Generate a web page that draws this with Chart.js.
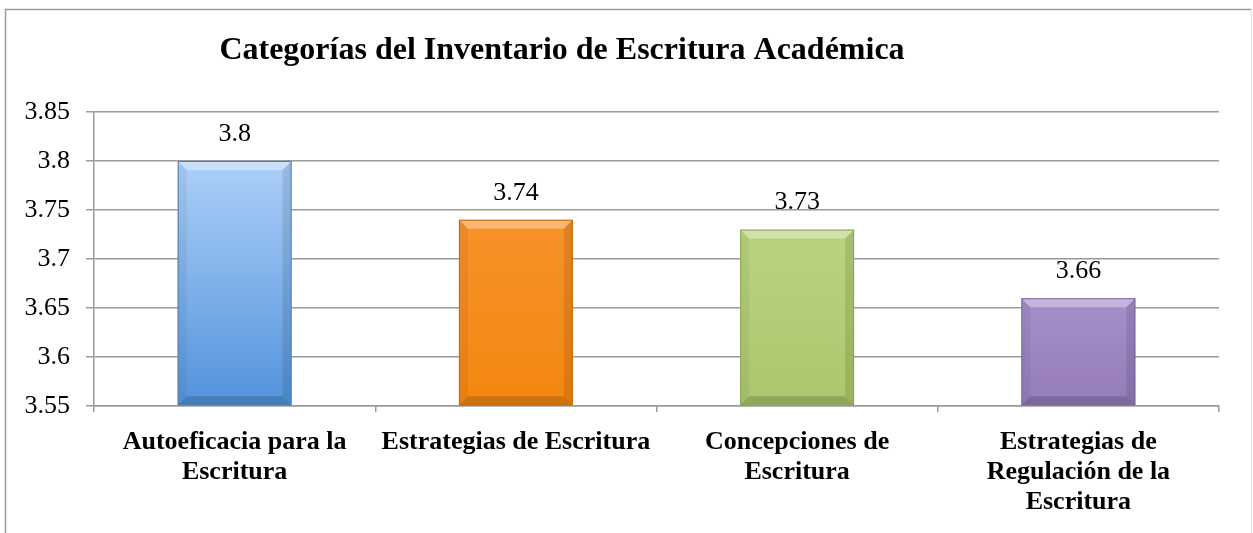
<!DOCTYPE html>
<html>
<head>
<meta charset="utf-8">
<script src="https://cdn.jsdelivr.net/npm/chart.js@4.4.1/dist/chart.umd.min.js"></script>
<style>
html,body{margin:0;padding:0;background:#fff;}
#wrap{position:relative;width:1253px;height:533px;}
</style>
</head>
<body>
<div id="wrap"><canvas id="c" width="1253" height="533"></canvas></div>
<script>
const chartTitle = 'Categorías del Inventario de Escritura Académica';
const categories = [
  ['Autoeficacia para la', 'Escritura'],
  'Estrategias de Escritura',
  ['Concepciones de', 'Escritura'],
  ['Estrategias de', 'Regulación de la', 'Escritura']
];
const values = [3.8, 3.74, 3.73, 3.66];
const valueLabels = ['3.8', '3.74', '3.73', '3.66'];
const yMin = 3.55, yMax = 3.85, yStep = 0.05;
const barTop = ['#acd0f9', '#f7922a', '#b9d47e', '#a68fca'];
const barBottom = ['#5293da', '#f3870f', '#aac76d', '#957cb8'];
const barEdge = ['#4d80bd', '#c46b0c', '#8aa552', '#7a63a0'];

const serif = '"Liberation Serif", "Times New Roman", serif';

const framePlugin = {
  id: 'frame',
  beforeDraw(chart) {
    const ctx = chart.ctx;
    ctx.save();
    ctx.fillStyle = '#fff';
    ctx.fillRect(0, 0, chart.width, chart.height);
    ctx.strokeStyle = '#9a9a9a';
    ctx.lineWidth = 1.5;
    ctx.beginPath();
    ctx.moveTo(5.5, chart.height);
    ctx.lineTo(5.5, 9.5);
    ctx.lineTo(1251, 9.5);
    ctx.stroke();
    ctx.strokeStyle = '#e2e2e2';
    ctx.lineWidth = 1;
    ctx.beginPath();
    ctx.moveTo(1251.5, 9.5);
    ctx.lineTo(1251.5, chart.height);
    ctx.stroke();
    ctx.restore();
  },
  afterDraw(chart) {
    const ctx = chart.ctx;
    ctx.save();
    ctx.fillStyle = '#000';
    ctx.font = 'bold 32px ' + serif;
    ctx.textAlign = 'center';
    ctx.textBaseline = 'middle';
    ctx.fillText(chartTitle, 562, 51);
    ctx.restore();
  }
};

const bevelPlugin = {
  id: 'bevel',
  afterDatasetsDraw(chart) {
    const ctx = chart.ctx;
    const meta = chart.getDatasetMeta(0);
    meta.data.forEach((bar, i) => {
      const p = bar.getProps(['x', 'y', 'base', 'width'], true);
      const l = p.x - p.width / 2, r = p.x + p.width / 2, t = p.y;
      const b = Math.min(p.base, chart.chartArea.bottom);
      const s = 9;
      ctx.save();
      ctx.fillStyle = 'rgba(255,255,255,0.35)';
      ctx.beginPath();
      ctx.moveTo(l, t); ctx.lineTo(r, t); ctx.lineTo(r - s, t + s); ctx.lineTo(l + s, t + s); ctx.closePath(); ctx.fill();
      ctx.fillStyle = 'rgba(0,0,0,0.05)';
      ctx.beginPath();
      ctx.moveTo(l, t); ctx.lineTo(l + s, t + s); ctx.lineTo(l + s, b - s); ctx.lineTo(l, b); ctx.closePath(); ctx.fill();
      ctx.fillStyle = 'rgba(0,0,0,0.10)';
      ctx.beginPath();
      ctx.moveTo(r, t); ctx.lineTo(r - s, t + s); ctx.lineTo(r - s, b - s); ctx.lineTo(r, b); ctx.closePath(); ctx.fill();
      ctx.fillStyle = 'rgba(0,0,0,0.16)';
      ctx.beginPath();
      ctx.moveTo(l, b); ctx.lineTo(r, b); ctx.lineTo(r - s, b - s); ctx.lineTo(l + s, b - s); ctx.closePath(); ctx.fill();
      ctx.strokeStyle = barEdge[i];
      ctx.lineWidth = 1;
      ctx.strokeRect(l + 0.5, t + 0.5, p.width - 1, b - t - 1);
      ctx.fillStyle = '#000';
      ctx.font = '26px ' + serif;
      ctx.textAlign = 'center';
      ctx.textBaseline = 'middle';
      ctx.fillText(valueLabels[i], p.x, t - 27);
      ctx.restore();
    });
  }
};

new Chart(document.getElementById('c'), {
  type: 'bar',
  data: {
    labels: categories,
    datasets: [{
      data: values,
      base: yMin,
      backgroundColor(ctx) {
        const ch = ctx.chart, area = ch.chartArea;
        const i = ctx.dataIndex;
        if (!area) return barBottom[i];
        const yTop = ch.scales.y.getPixelForValue(values[i]);
        const g = ch.ctx.createLinearGradient(0, yTop, 0, area.bottom);
        g.addColorStop(0, barTop[i]);
        g.addColorStop(1, barBottom[i]);
        return g;
      },
      borderWidth: 0,
      barPercentage: 0.81,
      categoryPercentage: 0.5
    }]
  },
  options: {
    responsive: false,
    animation: false,
    devicePixelRatio: 1,
    layout: { padding: { left: 0, right: 34, top: 112, bottom: 0 } },
    plugins: { legend: { display: false }, title: { display: false }, tooltip: { enabled: false } },
    scales: {
      y: {
        min: yMin, max: yMax,
        afterFit(scale) { scale.width = 94; },
        ticks: {
          stepSize: yStep,
          padding: 16,
          color: '#000',
          font: { family: serif, size: 26 },
          callback(v) { return String(Math.round(v * 100) / 100); }
        },
        grid: { color: '#9a9a9a', lineWidth: 1.5, tickLength: 8, drawTicks: true },
        border: { color: '#9a9a9a', width: 1.5 }
      },
      x: {
        afterFit(scale) { scale.height = 127; },
        ticks: {
          padding: 15,
          color: '#000',
          font: { family: serif, size: 26, weight: 'bold', lineHeight: 1.154 },
          maxRotation: 0, autoSkip: false
        },
        grid: { drawOnChartArea: false, drawTicks: true, tickLength: 6, color: '#9a9a9a', lineWidth: 1.5, offset: true },
        border: { color: '#9a9a9a', width: 1.5 }
      }
    }
  },
  plugins: [framePlugin, bevelPlugin]
});
</script>
</body>
</html>
